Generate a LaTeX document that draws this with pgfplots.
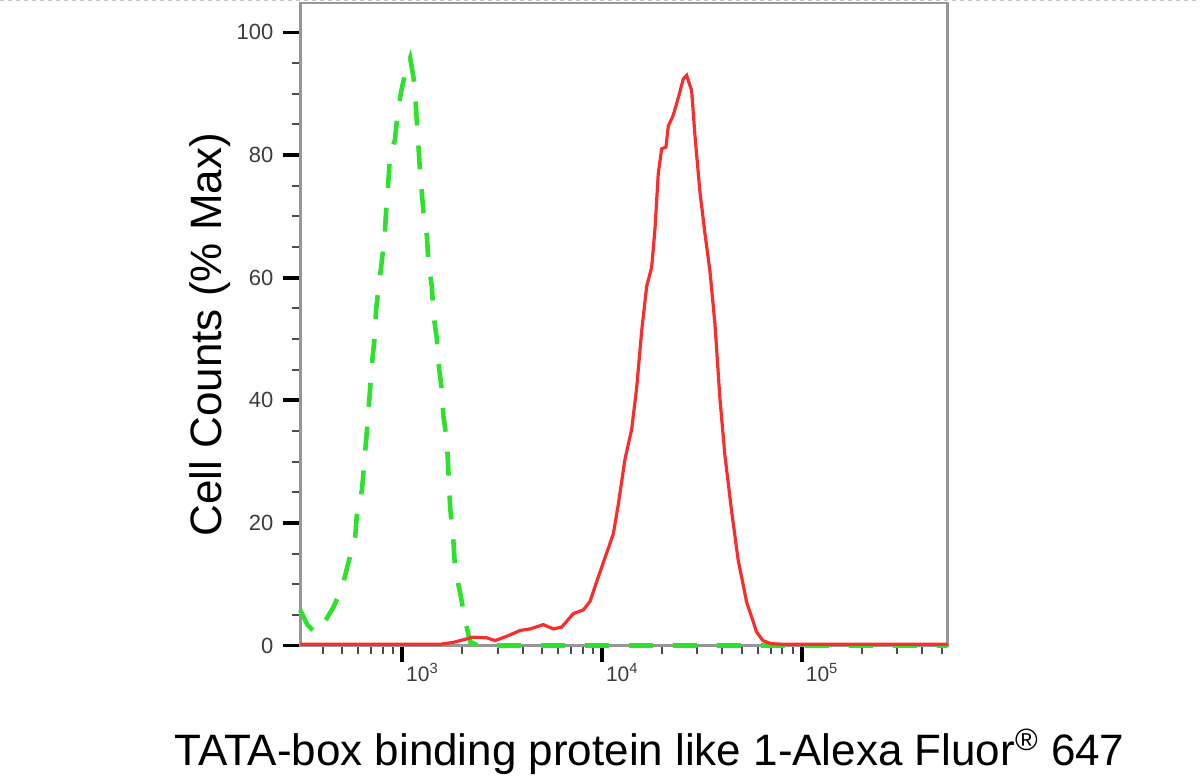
\documentclass[border=0pt]{standalone}
\usepackage{fontspec}
\setmainfont{Liberation Sans}
\usepackage{pgfplots}
\pgfplotsset{compat=1.18}
\definecolor{posred}{RGB}{250,45,45}
\definecolor{isogreen}{RGB}{45,225,45}
\definecolor{axgray}{RGB}{150,150,150}
\definecolor{lblgray}{RGB}{60,60,60}

\begin{document}
\begin{tikzpicture}[x=1bp,y=1bp]
\path (0,0) rectangle (600,391);
\draw[gray!45, dash pattern=on 2bp off 2bp, line width=0.5bp] (0,390.6) -- (600,390.6);
\begin{axis}[
    at={(150bp,68bp)}, anchor=south west,
    scale only axis, width=324bp, height=321.5bp,
    xmode=log, xmin=309, xmax=537000,
    ymin=0, ymax=104.8,
    clip=false,
    axis line style={axgray, line width=1.3bp},
    tick align=outside,
    xtick pos=bottom, ytick pos=left,
    xtick={1000,10000,100000},
    xticklabels={10\textsuperscript{3},10\textsuperscript{4},10\textsuperscript{5}},
    minor xtick={400,500,600,700,800,900,2000,3000,4000,5000,6000,7000,8000,9000,
                 20000,30000,40000,50000,60000,70000,80000,90000,200000,300000,400000,500000},
    ytick={0,20,40,60,80,100},
    minor y tick num=3,
    major tick length=8.5bp, minor tick length=4.2bp,
    every major tick/.append style={black, line width=1.9bp},
    every minor tick/.append style={black!70, line width=1bp},
    /pgf/number format/assume math mode=true,
    yticklabel style={font=\fontsize{11bp}{11bp}\selectfont, text=lblgray, xshift=-1.5bp},
    xticklabel style={font=\fontsize{10.5bp}{10.5bp}\selectfont, text=lblgray, anchor=base west, xshift=-1.5bp, yshift=-9.5bp},
]
\addplot[isogreen, line width=2.3bp, dash pattern=on 12bp off 10bp] coordinates {
 (309,5.8) (335,3.4) (367,2.1) (405,3.6) (452,6.2) (501,9.5) (537,13.4) (582,17.8)
 (594,21.5) (629,25.4) (645,29.5) (666,35) (690,41.6) (706,46) (727,50) (740,54.7)
 (761,58.2) (791,62.7) (816,66.5) (830,70.6) (848,74.5) (868,79.6) (920,82.5)
 (952,87.3) (997,91) (1050,94) (1096,95.8) (1152,91.7) (1184,85.5) (1230,77)
 (1278,70.6) (1329,66.8) (1354,62.3) (1408,58.5) (1434,54) (1491,50) (1519,46)
 (1579,41.7) (1609,37.3) (1673,33.5) (1700,29) (1738,22.5) (1805,16.9) (1841,12.4)
 (1950,8.6) (2065,4.1) (2188,0.6) (2400,0) (537000,0)
};
\addplot[posred, line width=1.6bp] coordinates {
 (309,0.2) (1549,0.2) (1799,0.5) (2265,1.35) (2652,1.25) (2917,0.8) (3338,1.5)
 (3890,2.45) (4365,2.7) (5087,3.4) (5708,2.7) (6286,3.0) (7186,5.2) (7762,5.6)
 (8064,5.8) (8710,7.2) (9583,11.2) (10556,15.1) (11391,18.2) (12064,23) (13032,30.4)
 (14079,35.3) (14912,42.1) (15794,51.3) (16730,58.6) (17720,61.7) (18408,67.9)
 (19120,77) (19884,81) (20893,81.3) (21454,84.7) (22723,86.5) (24072,89.3)
 (25498,92.4) (26517,93) (28086,90.5) (29174,83.2) (30903,74) (32734,67.2)
 (34674,61.1) (36728,52.5) (38905,40.3) (41210,31) (44513,21.9) (48028,13.9)
 (52905,7.1) (59361,2.2) (63826,0.8) (70000,0.3) (80353,0.2) (537000,0.2)
};
\end{axis}
\node[anchor=base, rotate=90, font=\fontsize{22bp}{22bp}\selectfont] at (110.5,223.5) {Cell Counts (\% Max)};
\node[anchor=base, font=\fontsize{22bp}{22bp}\selectfont] at (324.75,8) {TATA-box binding protein like 1-Alexa Fluor\textsuperscript{®} 647};
\end{tikzpicture}
\end{document}
